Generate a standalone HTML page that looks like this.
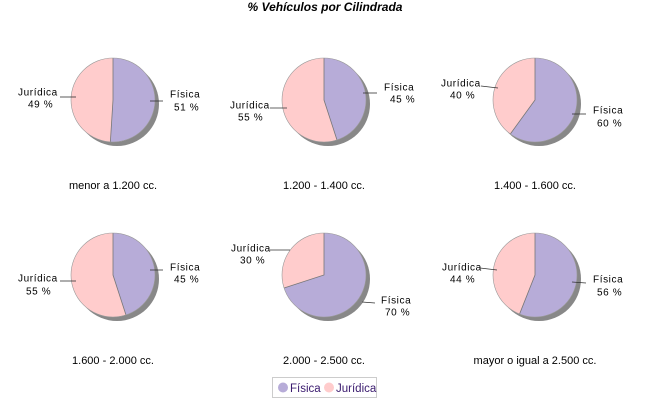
<!DOCTYPE html>
<html><head><meta charset="utf-8"><style>
html,body{margin:0;padding:0;background:#fff;width:650px;height:400px;overflow:hidden}
svg text{font-family:"Liberation Sans",sans-serif}
</style></head><body>
<svg id="s" width="650" height="400" xmlns="http://www.w3.org/2000/svg">
<text x="325" y="11" font-size="12" font-weight="bold" font-style="italic" text-anchor="middle">% Vehículos por Cilindrada</text>
<rect x="272.5" y="377.5" width="104" height="20" fill="#fff" stroke="#ccc"/>
<circle cx="283" cy="387.5" r="5" fill="#b7acd8"/>
<text x="290" y="392" font-size="11.5" fill="#3a1a6e">Física</text>
<circle cx="329" cy="387.5" r="5" fill="#ffcccc"/>
<text x="336" y="392" font-size="11.5" fill="#3a1a6e">Jurídica</text>
</svg>
<script>
var s=document.getElementById('s'),NS='http://www.w3.org/2000/svg';
function el(t,a,txt){var e=document.createElementNS(NS,t);for(var k in a)e.setAttribute(k,a[k]);if(txt)e.textContent=txt;s.appendChild(e);return e;}
var pies=[
[113,100,51,'menor a 1.200 cc.',[170,94,174,107,150,101,163,101],[18,92,28,104,60,97,76,97]],
[324,100,45,'1.200 - 1.400 cc.',[384,87,390,99,363,93,377,93],[230,105,238,117,270,108,287,108]],
[535,100,60,'1.400 - 1.600 cc.',[593,110,597,123,572,114,586,114],[441,83,450,95,481,86,498,88]],
[113,275,45,'1.600 - 2.000 cc.',[170,267,174,279,150,270,163,270],[18,278,26,291,60,281,76,281]],
[324,275,70,'2.000 - 2.500 cc.',[381,300,385,312,362,302,375,303],[231,248,240,260,270,250,290,250]],
[535,275,56,'mayor o igual a 2.500 cc.',[593,279,597,292,572,282,586,283],[442,267,450,279,480,268,497,270]]];
var r=42;
pies.forEach(function(p){
 var cx=p[0],cy=p[1],f=p[2];
 el('circle',{cx:cx+4,cy:cy+4,r:r,fill:'#888'});
 var a=f/100*2*Math.PI,x=cx+r*Math.sin(a),y=cy-r*Math.cos(a),lg=f>50?1:0;
 el('circle',{cx:cx,cy:cy,r:r,fill:'#ffcccc'});
 el('path',{d:'M'+cx+','+cy+' L'+cx+','+(cy-r)+' A'+r+','+r+' 0 '+lg+' 1 '+x+','+y+' Z',fill:'#b7acd8'});
 el('path',{d:'M'+x+','+y+' L'+cx+','+cy+' L'+cx+','+(cy-r),fill:'none',stroke:'#777','stroke-width':0.8});
 el('circle',{cx:cx,cy:cy,r:r,fill:'none',stroke:'#999','stroke-width':0.6});
 el('text',{x:cx,y:cy+89,'font-size':11,'text-anchor':'middle'},p[3]);
 [[p[4],'Física',f],[p[5],'Jurídica',100-f]].forEach(function(q){
  var L=q[0];
  el('line',{x1:L[4],y1:L[5],x2:L[6],y2:L[7],stroke:'#333','stroke-width':0.8});
  el('text',{x:L[0],y:L[1]+3.5,'font-size':10,'letter-spacing':'0.6'},q[1]);
  el('text',{x:L[2],y:L[3]+3.5,'font-size':10,'letter-spacing':'0.6'},q[2]+' %');
 });
});
</script>
</body></html>
